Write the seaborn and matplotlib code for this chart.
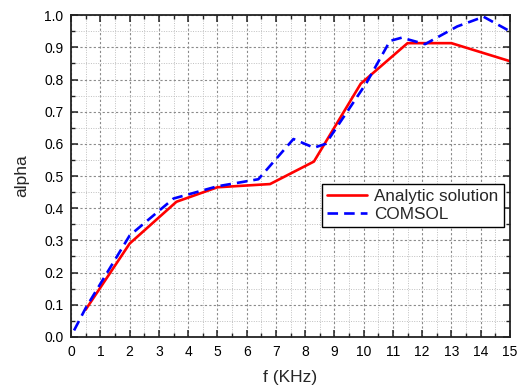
import pandas as pd
import matplotlib
matplotlib.use("Agg")
import matplotlib.pyplot as plt
import seaborn as sns
from matplotlib.ticker import MultipleLocator

# Data
analytic_f = [0.5, 2.0, 3.6, 5.0, 6.8, 8.3, 9.9, 11.5, 13.0, 15.0]
analytic_alpha = [0.085, 0.29, 0.42, 0.465, 0.475, 0.545, 0.787, 0.913, 0.913, 0.857]

comsol_f = [0.1, 0.5, 2.0, 3.5, 5.0, 6.4, 7.6, 8.3, 8.7, 10.1, 10.9, 11.3, 12.1, 13.2, 14.1, 15.0]
comsol_alpha = [0.02, 0.09, 0.315, 0.43, 0.468, 0.49, 0.615, 0.588, 0.60, 0.79, 0.92, 0.93,
                0.91, 0.965, 0.995, 0.95]

series_names = ["Analytic solution", "COMSOL"]

df = pd.concat([
    pd.DataFrame({"f": analytic_f, "alpha": analytic_alpha, "series": series_names[0]}),
    pd.DataFrame({"f": comsol_f, "alpha": comsol_alpha, "series": series_names[1]}),
], ignore_index=True)

sns.set_style("ticks")
plt.rcParams['font.family'] = ['Liberation Sans', 'DejaVu Sans']

fig, ax = plt.subplots(figsize=(5.23, 3.89), dpi=100)
fig.subplots_adjust(left=0.136, right=0.975, top=0.961, bottom=0.134)

sns.lineplot(data=df, x="f", y="alpha", hue="series", style="series",
             palette={series_names[0]: "#ff0000", series_names[1]: "#0000ff"},
             dashes={series_names[0]: "", series_names[1]: (4, 2.3)},
             linewidth=1.9, sort=False, estimator=None, ax=ax)

ax.set_xlim(0, 15)
ax.set_ylim(0, 1.0)
ax.xaxis.set_major_locator(MultipleLocator(1))
ax.xaxis.set_minor_locator(MultipleLocator(0.5))
ax.yaxis.set_major_locator(MultipleLocator(0.1))
ax.yaxis.set_minor_locator(MultipleLocator(0.05))
ax.yaxis.set_major_formatter(matplotlib.ticker.FormatStrFormatter("%.1f"))

ax.grid(which="major", color="#8a8a8a", linestyle=(0, (2, 2)), linewidth=0.8)
ax.grid(which="minor", color="#c0c0c0", linestyle=(0, (1, 1.5)), linewidth=0.7)
ax.set_axisbelow(True)

for s in ax.spines.values():
    s.set_linewidth(1.3)
    s.set_color("#222222")
    s.set_visible(True)

ax.tick_params(which="both", direction="in", top=True, right=True, colors="#222222",
               labelsize=10, labelcolor="black")
ax.tick_params(which="major", length=5, width=1.1, pad=5.5)
ax.tick_params(which="minor", length=3, width=1.0)

ax.set_xlabel("f (KHz)", fontsize=12.5, labelpad=8)
ax.set_ylabel("alpha", fontsize=12.5, labelpad=11)

leg = ax.legend(loc="lower right", bbox_to_anchor=(0.986, 0.342), fontsize=12.3,
                frameon=True, fancybox=False, handlelength=2.3, borderpad=0.3,
                labelspacing=0.15, handletextpad=0.45, borderaxespad=0)
leg.get_frame().set_edgecolor("black")
leg.get_frame().set_linewidth(1.0)
leg.get_frame().set_alpha(1)

fig.savefig("out.png", dpi=100)
